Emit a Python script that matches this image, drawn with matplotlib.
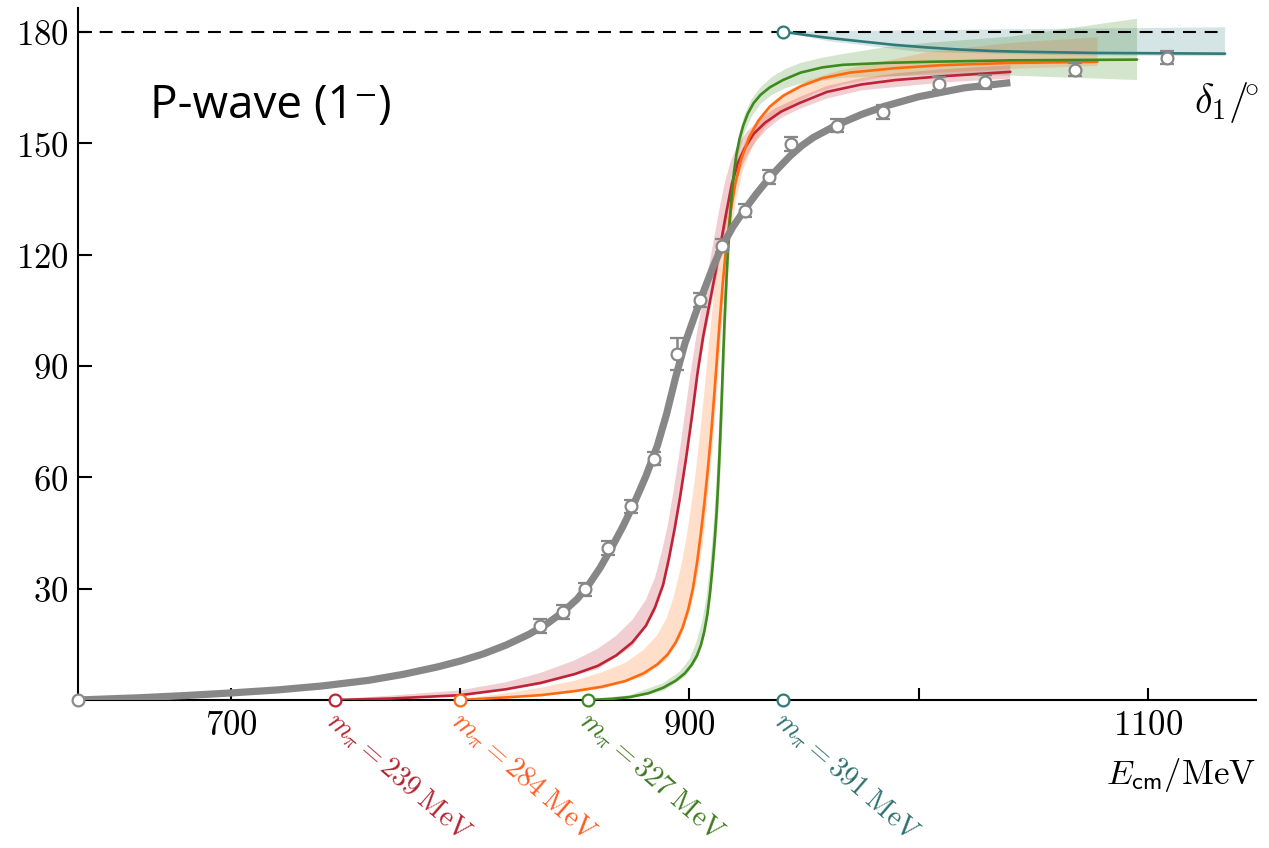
import numpy as np
import matplotlib
matplotlib.use("Agg")
import matplotlib.pyplot as plt

plt.rcParams['mathtext.fontset'] = 'cm'

# ---------------- data ----------------
# experimental points: E (MeV), delta (deg), error (deg)
exp_E = [834.8, 844.9, 854.5, 864.5, 874.5, 884.6, 894.6, 904.6, 914.2, 924.3,
         934.7, 944.5, 964.4, 984.5, 1009.0, 1029.0, 1068.2, 1108.4]
exp_d = [19.9, 23.7, 29.8, 41.0, 52.2, 65.0, 93.2, 107.8, 122.4, 131.8,
         140.9, 149.8, 154.7, 158.4, 166.0, 166.5, 169.8, 173.0]
exp_err = [1.8, 1.8, 1.8, 1.9, 1.8, 1.8, 4.2, 1.9, 1.8, 1.8,
           1.8, 1.8, 1.8, 1.8, 1.8, 1.8, 1.8, 1.8]

# physical-point fit curve (gray)
gray_E = [633.2, 660, 680, 700, 720, 740, 760, 775, 790, 800, 810, 820, 830, 838,
          845, 851, 856, 861, 866, 871, 876, 881, 886, 890, 894, 898, 902, 906,
          910, 914, 919, 924, 929, 934, 939, 944, 949, 954, 964, 975, 985, 1000,
          1020, 1040]
gray_d = [0.0, 0.6, 1.2, 1.9, 2.7, 3.8, 5.3, 6.9, 8.9, 10.5, 12.4, 14.8, 17.7, 20.6,
          23.8, 27.2, 31.0, 35.6, 41.0, 46.8, 53.2, 60.3, 68.5, 77.0, 87.0, 96.0,
          103.0, 109.8, 116.2, 122.0, 127.5, 132.0, 136.2, 140.0, 143.4, 146.6,
          149.3, 151.5, 154.8, 157.7, 159.9, 162.5, 164.9, 166.3]

# m_pi = 239 MeV (red)
red_thr = 745.4
red_E = [745.4, 770, 800, 820, 835, 850, 860, 868, 875, 881, 885, 888.5, 891, 893.5,
         896, 898.5, 901, 903.5, 906, 908.5, 911, 913.5, 916, 918.5, 921, 924, 928,
         933, 940, 948, 960, 975, 990, 1010, 1040]
red_d = [0.0, 0.4, 1.3, 2.9, 4.6, 7.0, 9.2, 12.0, 15.5, 20.0, 25.0, 31.0, 38.0, 46.0,
         55.0, 65.0, 76.0, 88.0, 98.0, 106.0, 114.0, 122.5, 131.0, 139.0, 144.5,
         148.5, 152.5, 155.5, 158.5, 160.8, 163.8, 165.8, 167.0, 168.0, 169.2]
red_up_E = [745.4, 770, 800, 820, 835, 850, 860, 868, 875, 881, 885, 888, 890.5, 893,
            895.5, 898, 900.5, 903, 905.5, 908, 910.5, 913, 915.5, 918, 921, 925, 930,
            937, 948, 960, 975, 990, 1010, 1040]
red_up_d = [0.2, 1.2, 2.6, 4.8, 7.3, 10.7, 13.8, 17.3, 21.5, 27.0, 33.0, 40.0, 47.0,
            56.0, 66.0, 77.0, 88.0, 98.0, 106.5, 115.0, 123.5, 132.0, 139.5, 145.0,
            149.5, 153.0, 156.0, 159.3, 162.4, 165.4, 167.5, 168.8, 169.9, 171.0]
red_lo_E = [745.4, 800, 835, 860, 875, 885, 891, 896, 901, 904, 906.5, 909, 911.5, 914,
            916.5, 919, 922, 925, 929, 934, 940, 948, 960, 975, 1010, 1040]
red_lo_d = [0.0, 1.0, 4.1, 8.3, 14.3, 23.5, 36.0, 53.0, 74.0, 88.0, 97.0, 104.5,
            112.5, 120.5, 129.0, 136.5, 142.5, 146.5, 150.5, 153.8, 156.8, 159.2,
            162.0, 164.2, 166.3, 167.4]

# m_pi = 284 MeV (orange)
org_thr = 799.9
org_E = [799.9, 820, 835, 850, 862, 872, 880, 886, 890.5, 894, 897, 899.5, 901.5,
         903.3, 905, 906.5, 908, 909.5, 910.8, 912, 913.2, 914.5, 916, 917.8, 920,
         922.5, 926, 930, 935, 941, 948.5, 958, 970, 990, 1010, 1040, 1078]
org_d = [0.0, 0.7, 1.3, 2.4, 3.6, 5.1, 7.2, 9.6, 12.3, 15.5, 19.5, 24.5, 30.0, 37.0,
         45.0, 53.0, 62.0, 72.0, 82.0, 92.0, 102.0, 112.0, 122.0, 131.0, 139.0,
         145.5, 151.5, 156.0, 159.8, 162.8, 165.3, 167.5, 169.0, 170.2, 171.0,
         171.6, 171.9]
org_up_E = [799.9, 820, 835, 850, 862, 872, 880, 886, 890, 893, 896, 898.5, 900.5,
            902.5, 904.5, 906.5, 908.5, 910.5, 912.5, 915, 918, 921.5, 926, 931, 937,
            944, 952, 965, 985, 1003.7, 1040, 1078]
org_up_d = [0.2, 1.8, 3.3, 5.2, 7.5, 10.0, 13.5, 17.5, 22.0, 27.5, 35.0, 43.0, 51.0,
            60.0, 71.0, 83.0, 96.0, 108.0, 119.0, 130.0, 139.5, 146.5, 152.5, 157.5,
            161.5, 164.5, 167.0, 169.5, 172.0, 174.5, 177.0, 178.5]
org_lo_E = [799.9, 835, 862, 880, 890, 896, 900.5, 903.5, 905.8, 907.6, 909.2, 910.6,
            912, 913.3, 914.7, 916.3, 918.2, 920.5, 923.5, 927.5, 932, 938, 945, 955,
            967, 985, 1003.7, 1040, 1078]
org_lo_d = [0.0, 1.0, 3.0, 6.3, 10.8, 16.5, 24.5, 33.0, 42.0, 52.0, 62.0, 72.0, 83.0,
            94.0, 105.0, 116.0, 126.0, 135.0, 143.0, 149.0, 153.5, 157.5, 160.5,
            163.5, 165.8, 167.8, 168.8, 170.0, 170.8]

# m_pi = 327 MeV (green)
grn_thr = 855.8
grn_E = [855.8, 866, 874, 882, 888.5, 894, 898, 901, 903.3, 905, 906.5, 907.8, 909,
         910, 911, 911.8, 912.5, 913.1, 913.7, 914.3, 914.8, 915.3, 915.8, 916.4, 917,
         917.7, 918.5, 919.4, 920.5, 921.8, 923.5, 925.5, 928, 931, 935, 940.8, 948.5,
         958, 967, 985, 1003.7, 1040, 1095.3]
grn_d = [0.0, 0.3, 0.8, 1.8, 3.3, 5.2, 7.2, 9.5, 12.0, 14.8, 18.5, 23.0, 29.0, 35.5,
         43.0, 50.0, 58.0, 66.0, 75.0, 85.0, 94.0, 102.0, 109.0, 116.5, 123.0, 130.0,
         136.5, 142.0, 147.0, 151.0, 154.8, 158.0, 160.8, 163.0, 165.0, 167.0, 169.0,
         170.4, 171.1, 171.6, 171.9, 172.3, 172.5]
grn_up_E = [855.8, 874, 888.5, 896, 900, 903, 905.5, 907.5, 909, 910.3, 911.3, 912.2,
            913, 913.7, 914.4, 915.1, 916, 917, 918.2, 919.6, 921.5, 924, 927, 931, 936,
            942, 948.5, 958, 967, 985, 1003.7, 1040, 1095.3]
grn_up_d = [0.2, 1.3, 4.5, 7.8, 11.0, 15.5, 21.0, 28.0, 36.0, 45.0, 54.0, 64.0, 74.0,
            84.0, 95.0, 106.0, 117.0, 127.0, 137.0, 145.0, 152.0, 157.5, 161.7, 165.0,
            167.8, 170.0, 171.6, 173.0, 174.0, 175.8, 177.0, 178.7, 183.5]
grn_lo_E = [855.8, 874, 888.5, 898, 903.5, 906.5, 908.8, 910.5, 911.8, 912.8, 913.6,
            914.3, 914.9, 915.5, 916.1, 916.8, 917.6, 918.6, 919.8, 921.5, 923.8, 927,
            931, 936, 942, 948.5, 967, 1003.7, 1040, 1095.3]
grn_lo_d = [0.0, 0.4, 2.4, 6.2, 11.0, 17.0, 25.0, 34.0, 43.0, 52.0, 62.0, 72.0, 82.0,
            92.0, 102.0, 112.0, 122.0, 132.0, 140.5, 147.0, 152.5, 157.0, 160.5, 163.0,
            164.8, 166.0, 167.6, 168.3, 168.2, 167.0]

# m_pi = 391 MeV (teal, bound state)
tel_thr = 940.8
tel_E = [940.8, 950, 960.0, 975, 988.8, 1003, 1018.1, 1033, 1047.3, 1076.1, 1105,
         1133.7]
tel_d = [180.0, 179.2, 178.4, 177.4, 176.5, 175.8, 175.2, 174.8, 174.6, 174.3, 174.2,
         174.1]
tel_up_E = [940.8, 1000, 1060, 1133.7]
tel_up_d = [180.0, 180.4, 180.8, 181.2]
tel_lo_E = [1133.7, 1060, 1000, 960, 940.8]
tel_lo_d = [173.4, 173.7, 174.6, 177.5, 180.0]

labels = [r'$m_\pi = 239\;\mathrm{MeV}$', r'$m_\pi = 284\;\mathrm{MeV}$',
          r'$m_\pi = 327\;\mathrm{MeV}$', r'$m_\pi = 391\;\mathrm{MeV}$']
thresholds = [red_thr, org_thr, grn_thr, tel_thr]

xticks = [700, 800, 900, 1000, 1100]
xticklabels = ['$700$', '', '$900$', '', '$1100$']
yticks = [30, 60, 90, 120, 150, 180]
yticklabels = ['$30$', '$60$', '$90$', '$120$', '$150$', '$180$']

# ---------------- style ----------------
c_gray = '#878787'
c_red = '#bf2335'
c_org = '#ff6a10'
c_grn = '#3f8a1c'
c_tel = '#2f7a7a'
c_red_lab = '#b5232f'
c_org_lab = '#ff5a1f'
c_grn_lab = '#3d7a1f'
c_tel_lab = '#2f6f6f'

fig = plt.figure(figsize=(12.69, 8.48), dpi=100)
ax = fig.add_axes([78/1269, (848-700)/848, (1256-78)/1269, (700-8)/848])
ax.set_xlim(633.2, 1147.2)
ax.set_ylim(0, 186.4)


def band(upE, upd, loE, lod, color, alpha):
    if loE[0] < loE[-1]:
        xs = list(upE) + list(loE)[::-1]
        ys = list(upd) + list(lod)[::-1]
    else:
        xs = list(upE) + list(loE)
        ys = list(upd) + list(lod)
    ax.fill(xs, ys, color=color, alpha=alpha, lw=0, zorder=1)


band(grn_up_E, grn_up_d, grn_lo_E, grn_lo_d, c_grn, 0.22)
band(org_up_E, org_up_d, org_lo_E, org_lo_d, c_org, 0.22)
band(red_up_E, red_up_d, red_lo_E, red_lo_d, c_red, 0.22)
band(tel_up_E, tel_up_d, tel_lo_E, tel_lo_d, c_tel, 0.2)

# dashed line at 180
ax.plot([633.2, 1133.7], [180, 180], color='black', lw=1.5,
        ls=(0, (6.2, 4.2)), zorder=2)

for E, d, c in [(red_E, red_d, c_red), (org_E, org_d, c_org),
                (grn_E, grn_d, c_grn), (tel_E, tel_d, c_tel)]:
    ax.plot(E, d, color=c, lw=1.9, zorder=3, solid_capstyle='round',
            solid_joinstyle='round')

ax.plot(gray_E, gray_d, color=c_gray, lw=5.2, zorder=4, solid_capstyle='butt',
        solid_joinstyle='round')

ax.errorbar(exp_E, exp_d, yerr=exp_err, fmt='o', ms=8.5, mfc='white', mec=c_gray,
            mew=1.6, ecolor=c_gray, elinewidth=1.8, capsize=5, capthick=2.0,
            zorder=5)

# threshold circles
ax.plot([633.2], [0], 'o', ms=8.5, mfc='white', mec='#8a8a8a', mew=1.6,
        clip_on=False, zorder=6)
thr_cols = [c_red, c_org, c_grn, c_tel]
for t, c in zip(thresholds, thr_cols):
    ax.plot([t], [0], 'o', ms=8.5, mfc='white', mec=c, mew=1.6, clip_on=False, zorder=6)
ax.plot([tel_thr], [180], 'o', ms=8.5, mfc='white', mec=c_tel, mew=1.6,
        clip_on=False, zorder=6)

lab_cols = [c_red_lab, c_org_lab, c_grn_lab, c_tel_lab]
for t, lab, c in zip(thresholds, labels, lab_cols):
    ax.annotate(lab, xy=(t, 0), xytext=(3, -5), textcoords='offset points',
                rotation=-41, rotation_mode='anchor', ha='left', va='top',
                fontsize=20.5, color=c, annotation_clip=False)

# axes styling
for s in ['top', 'right']:
    ax.spines[s].set_visible(False)
for s in ['left', 'bottom']:
    ax.spines[s].set_linewidth(1.5)
    ax.spines[s].set_zorder(2.5)
ax.set_xticks(xticks)
ax.set_xticklabels(xticklabels)
ax.set_yticks(yticks)
ax.set_yticklabels(yticklabels)
ax.tick_params(axis='x', direction='in', length=9, width=1.5, labelsize=25, pad=6)
ax.tick_params(axis='y', direction='in', length=10, width=1.5, labelsize=25, pad=7)

fig.text(1256/1269, 64/848, r'$E_{\mathsf{cm}}/\mathrm{MeV}$', ha='right',
         va='baseline', fontsize=25)
fig.text(1259/1269, (848-113)/848, r'$\delta_1/\!^{\circ}$', ha='right', va='baseline',
         fontsize=29)
fig.text(150/1269, (848-118)/848, 'P-wave (1\u207b)', ha='left', va='baseline',
         fontsize=33, family=['Open Sans', 'DejaVu Sans'])

fig.savefig('out.png', dpi=100)
